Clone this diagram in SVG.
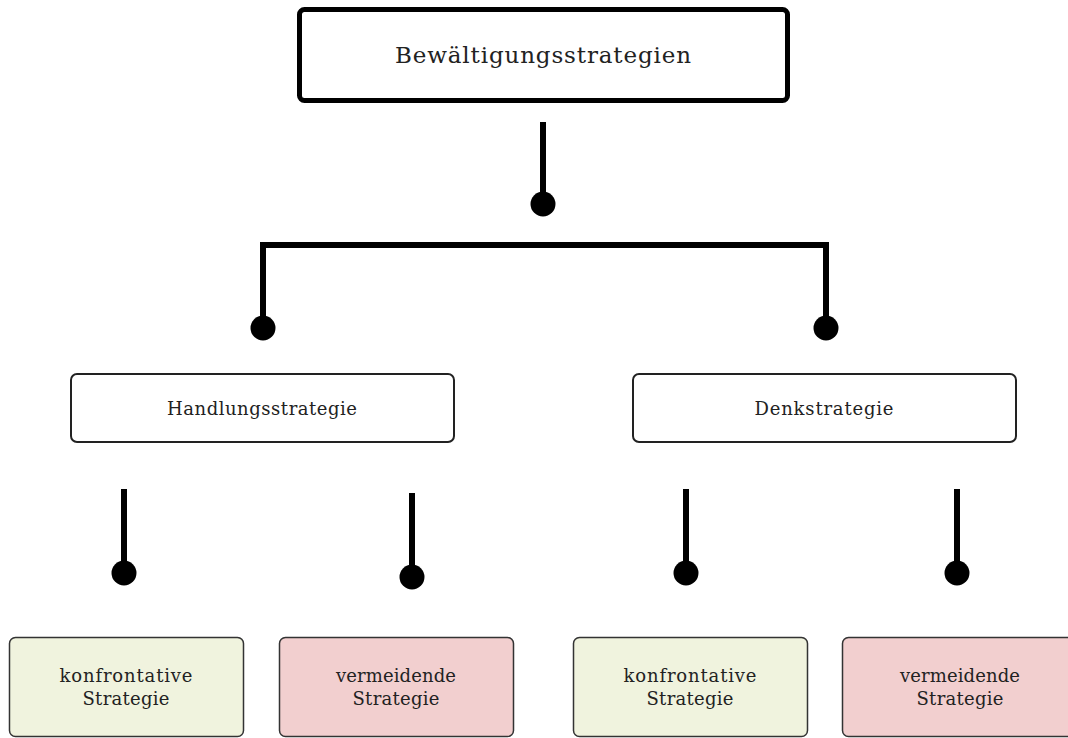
<svg xmlns="http://www.w3.org/2000/svg" width="1068" height="738" viewBox="0 0 1068 738">
<style>
text{font-family:"DejaVu Serif","Liberation Serif",serif;fill:#222;text-anchor:middle}
.main{font-size:23px}
.lbl{font-size:18px}
.box{fill:#fff;stroke:#222;stroke-width:2}
.green{fill:#f0f3de;stroke:#333;stroke-width:1.5}
.red{fill:#f2cfcf;stroke:#333;stroke-width:1.5}
.con{fill:none;stroke:#000;stroke-width:6}
.dot{fill:#000}
</style>
<rect width="1068" height="738" fill="#fff"/>
<g id="connectors">
<line class="con" x1="543" y1="122" x2="543" y2="200"/>
<circle class="dot" cx="543" cy="204" r="12.5"/>
<polyline class="con" points="263,322 263,245 826,245 826,322"/>
<circle class="dot" cx="263" cy="328" r="12.5"/>
<circle class="dot" cx="826" cy="328" r="12.5"/>
<line class="con" x1="124" y1="489" x2="124" y2="568"/>
<circle class="dot" cx="124" cy="573" r="12.5"/>
<line class="con" x1="412" y1="493" x2="412" y2="572"/>
<circle class="dot" cx="412" cy="577" r="12.5"/>
<line class="con" x1="686" y1="489" x2="686" y2="568"/>
<circle class="dot" cx="686" cy="573" r="12.5"/>
<line class="con" x1="957" y1="489" x2="957" y2="568"/>
<circle class="dot" cx="957" cy="573" r="12.5"/>
</g>
<g id="n-root">
<rect x="299.5" y="9.5" width="488" height="91" rx="5" fill="#fff" stroke="#000" stroke-width="5"/>
<text class="main" x="543" y="63" textLength="296" lengthAdjust="spacing">Bewältigungsstrategien</text>
</g>
<g id="n-handlung">
<rect class="box" x="71" y="374" width="383" height="68" rx="6"/>
<text class="lbl" x="262" y="415" textLength="190" lengthAdjust="spacing">Handlungsstrategie</text>
</g>
<g id="n-denk">
<rect class="box" x="633" y="374" width="383" height="68" rx="6"/>
<text class="lbl" x="824" y="415" textLength="139" lengthAdjust="spacing">Denkstrategie</text>
</g>
<g id="n-h-konf">
<rect class="green" x="9.5" y="637.5" width="234" height="99" rx="6"/>
<text class="lbl" x="126" y="682" textLength="133" lengthAdjust="spacing">konfrontative</text>
<text class="lbl" x="126" y="705" textLength="87" lengthAdjust="spacing">Strategie</text>
</g>
<g id="n-h-verm">
<rect class="red" x="279.5" y="637.5" width="234" height="99" rx="6"/>
<text class="lbl" x="396" y="682" textLength="120" lengthAdjust="spacing">vermeidende</text>
<text class="lbl" x="396" y="705" textLength="87" lengthAdjust="spacing">Strategie</text>
</g>
<g id="n-d-konf">
<rect class="green" x="573.5" y="637.5" width="234" height="99" rx="6"/>
<text class="lbl" x="690" y="682" textLength="133" lengthAdjust="spacing">konfrontative</text>
<text class="lbl" x="690" y="705" textLength="87" lengthAdjust="spacing">Strategie</text>
</g>
<g id="n-d-verm">
<rect class="red" x="842.5" y="637.5" width="234" height="99" rx="6"/>
<text class="lbl" x="960" y="682" textLength="120" lengthAdjust="spacing">vermeidende</text>
<text class="lbl" x="960" y="705" textLength="87" lengthAdjust="spacing">Strategie</text>
</g>
</svg>
